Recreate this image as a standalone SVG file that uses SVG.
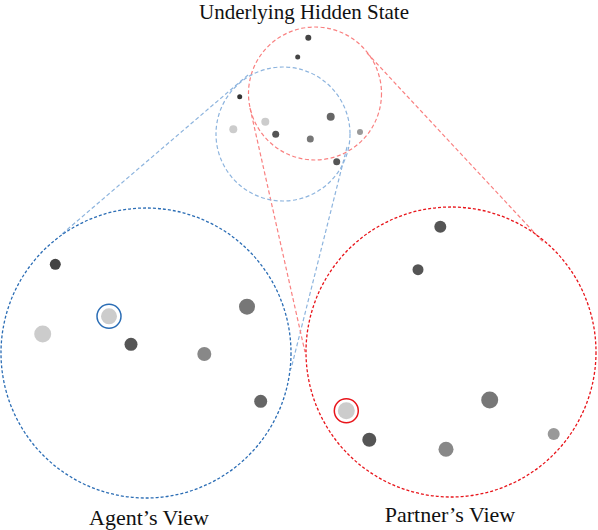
<svg xmlns="http://www.w3.org/2000/svg" width="598" height="530" viewBox="0 0 598 530">
<style>
text{font-family:"Liberation Serif","Times New Roman",serif;font-size:22px;fill:#111;text-anchor:middle}
.bl{fill:none;stroke:#8db4de;stroke-width:1.2;stroke-dasharray:4 2.5}
.rl{fill:none;stroke:#f98080;stroke-width:1.2;stroke-dasharray:4 2.5}
.bigb{fill:none;stroke:#2b6db5;stroke-width:1.3;stroke-dasharray:3 2}
.bigr{fill:none;stroke:#e8141a;stroke-width:1.3;stroke-dasharray:3 2}
</style>
<rect width="598" height="530" fill="#fff"/>
<g id="connectors">
<line class="bl" x1="248" y1="75" x2="62" y2="234"/>
<line class="bl" x1="347" y1="147" x2="291" y2="369"/>
<line class="rl" x1="250" y1="108" x2="305" y2="352"/>
<line class="rl" x1="367" y1="53" x2="543" y2="242"/>
</g>
<g id="hidden-state">
<circle class="rl" cx="315" cy="93.5" r="66.5"/>
<circle class="bl" cx="283" cy="134" r="67"/>
<circle cx="308.3" cy="37.7" r="3" fill="#444"/>
<circle cx="297.7" cy="57" r="2.5" fill="#444"/>
<circle cx="239.7" cy="96.7" r="2.5" fill="#333"/>
<circle cx="233.3" cy="129.3" r="4" fill="#ccc"/>
<circle cx="265.3" cy="121.7" r="4" fill="#ccc"/>
<circle cx="275.7" cy="134.3" r="3.5" fill="#555"/>
<circle cx="330.7" cy="116.7" r="4" fill="#666"/>
<circle cx="310.3" cy="139" r="3.5" fill="#777"/>
<circle cx="360" cy="132" r="3" fill="#999"/>
<circle cx="336.7" cy="161.7" r="3.5" fill="#555"/>
<text x="304" y="18.5" style="font-size:21px">Underlying Hidden State</text>
</g>
<g id="agent-view">
<circle class="bigb" cx="146" cy="353" r="145"/>
<circle cx="55.3" cy="264.3" r="5.5" fill="#444"/>
<circle cx="42.7" cy="334" r="8.5" fill="#ccc"/>
<circle cx="109" cy="316.3" r="8" fill="#ccc"/>
<circle cx="109" cy="316.3" r="12" fill="none" stroke="#2b6db5" stroke-width="1.5"/>
<circle cx="131" cy="344.3" r="6.5" fill="#555"/>
<circle cx="247" cy="306.7" r="8" fill="#777"/>
<circle cx="204.3" cy="354" r="7" fill="#888"/>
<circle cx="260.7" cy="401.3" r="6.5" fill="#666"/>
<text x="149" y="525">Agent’s View</text>
</g>
<g id="partner-view">
<circle class="bigr" cx="451" cy="352" r="145"/>
<circle cx="440.3" cy="226.7" r="6" fill="#555"/>
<circle cx="418" cy="269.7" r="5.5" fill="#555"/>
<circle cx="489.7" cy="400" r="8.5" fill="#777"/>
<circle cx="346.3" cy="410.7" r="8.5" fill="#ccc"/>
<circle cx="346.3" cy="410.7" r="12" fill="none" stroke="#e8141a" stroke-width="1.5"/>
<circle cx="369.3" cy="439.7" r="7" fill="#555"/>
<circle cx="446" cy="449.3" r="7.5" fill="#888"/>
<circle cx="553.7" cy="434" r="6" fill="#999"/>
<text x="450" y="522">Partner’s View</text>
</g>
</svg>
